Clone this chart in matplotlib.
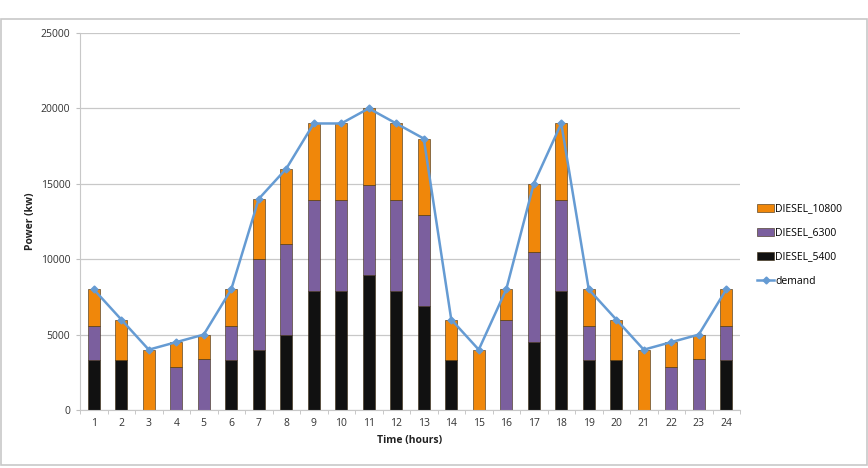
import matplotlib
matplotlib.use("Agg")
import matplotlib.pyplot as plt
from matplotlib.patches import Rectangle
import numpy as np

hours = list(range(1, 25))
diesel_5400 = [3300, 3300, 0, 0, 0, 3300, 4000, 5000, 7900, 7900, 8950, 7900,
               6900, 3300, 0, 0, 4500, 7900, 3300, 3300, 0, 0, 0, 3300]
diesel_6300 = [2300, 0, 0, 2880, 3380, 2300, 6000, 6000, 6000, 6000, 5950, 6000,
               6000, 0, 0, 6000, 6000, 6000, 2300, 0, 0, 2880, 3380, 2300]
diesel_10800 = [2400, 2700, 4000, 1620, 1620, 2400, 4000, 5000, 5100, 5100, 5100, 5100,
                5100, 2700, 4000, 2000, 4500, 5100, 2400, 2700, 4000, 1620, 1620, 2400]
demand = [8000, 6000, 4000, 4500, 5000, 8000, 14000, 16000, 19000, 19000, 20000, 19000,
          18000, 6000, 4000, 8000, 15000, 19000, 8000, 6000, 4000, 4500, 5000, 8000]
y_ticks = [0, 5000, 10000, 15000, 20000, 25000]

plt.rcParams['font.family'] = ['Open Sans', 'DejaVu Sans']

fig = plt.figure(figsize=(8.68, 4.68), dpi=100)
ax = fig.add_axes([80/868, 1 - 410/468, 660/868, 377/468])

x = np.arange(len(hours))
w = 0.44
b1 = np.array(diesel_5400)
b2 = b1 + np.array(diesel_6300)
ec = '#3a2a10'
lw = 0.4
ax.bar(x, diesel_5400, w, color='#111111', edgecolor=ec, linewidth=lw, label='DIESEL_5400', zorder=2)
ax.bar(x, diesel_6300, w, bottom=b1, color='#7b5f9e', edgecolor=ec, linewidth=lw, label='DIESEL_6300', zorder=2)
ax.bar(x, diesel_10800, w, bottom=b2, color='#f0870a', edgecolor=ec, linewidth=lw, label='DIESEL_10800', zorder=2)
ax.plot(x, demand, color='#659bd3', linewidth=1.8, marker='D', markersize=3.5,
        markerfacecolor='#659bd3', markeredgecolor='#659bd3', label='demand', zorder=3)

ax.set_xlim(-0.5, len(hours) - 0.5)
ax.set_ylim(0, 25000)
ax.set_yticks(y_ticks)
ax.set_yticklabels([str(v) for v in y_ticks])
ax.set_xticks(x)
ax.set_xticklabels([str(h) for h in hours])
ax.set_xticks(np.arange(-0.5, len(hours), 1), minor=True)
ax.tick_params(axis='x', which='major', length=0, labelsize=7.5, colors='#333333', pad=6)
ax.tick_params(axis='x', which='minor', length=3, color='#bfbfbf', direction='out')
ax.tick_params(axis='y', length=3, color='#bfbfbf', labelsize=7.5, colors='#333333', pad=4)
ax.grid(axis='y', color='#c8c8c8', linewidth=0.9, zorder=0)
ax.set_axisbelow(True)
for s in ['top', 'right']:
    ax.spines[s].set_visible(False)
ax.spines['left'].set_color('#c8c8c8')
ax.spines['bottom'].set_color('#c8c8c8')

ax.set_xlabel('Time (hours)', fontsize=7.5, fontweight='bold', color='#222222', labelpad=4)
ax.set_ylabel('Power (kw)', fontsize=7.5, fontweight='bold', color='#222222', labelpad=3)

handles, labels = ax.get_legend_handles_labels()
lab_order = ['DIESEL_10800', 'DIESEL_6300', 'DIESEL_5400', 'demand']
hd = dict(zip(labels, handles))
leg = fig.legend([hd[l] for l in lab_order], lab_order, loc='center left',
                 bbox_to_anchor=(748/868, 1 - 245/468), frameon=False, fontsize=7.5,
                 handlelength=1.6, handleheight=0.8, handletextpad=0.1, labelspacing=1.25)

fig.patches.append(Rectangle((0.5/868, 3/468), 866/868, 446/468, transform=fig.transFigure,
                             fill=False, edgecolor='#c8c8c8', linewidth=1.2))

fig.savefig('out.png', dpi=100, facecolor='white')
